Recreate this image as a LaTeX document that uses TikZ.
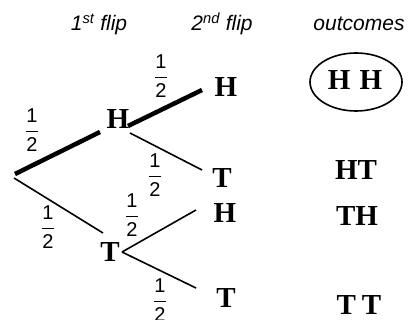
\documentclass[tikz,border=0pt]{standalone}
\usepackage{fontspec}
\setmainfont{Liberation Sans}
\newfontfamily\tserif{Liberation Serif}
\usetikzlibrary{calc,shapes.geometric}
\newcommand\myhalf{$\displaystyle\frac{\mbox{1}}{\mbox{2}}$}
\begin{document}
\begin{tikzpicture}[x=1pt,y=-1pt,
  lett/.style={font=\tserif\bfseries\fontsize{29}{29}\selectfont, inner sep=0pt},
  head/.style={font=\itshape\fontsize{21}{21}\selectfont, anchor=base, inner sep=0pt},
  fraclab/.style={font=\fontsize{20}{20}\selectfont, inner sep=0pt},
  thickbr/.style={line width=4.5pt},
  thinbr/.style={line width=1.6pt},
]
\useasboundingbox (0,0) rectangle (411,320);
% headers
\node[head] (h1) at (99,31) {1\textsuperscript{st} flip};
\node[head] (h2) at (222,31) {2\textsuperscript{nd} flip};
\node[head] (h3) at (359,31) {outcomes};
% tree
\coordinate (root) at (14,176);
\node[lett] (H1) at (118,119) {H};
\node[lett] (T1) at (110,252) {T};
\node[lett] (HH) at (226,87) {H};
\node[lett] (HT) at (222,178) {T};
\node[lett] (TH) at (225,213) {H};
\node[lett] (TT) at (226,298) {T};
\draw[thickbr] ($(root)+(1,-2)$) -- ($(H1)+(-18,13)$);
\draw[thickbr] ($(H1)+(10,7)$) -- ($(HH)+(-24,3)$);
\draw[thinbr] ($(H1)+(12,14)$) -- ($(HT)+(-20,-8)$);
\draw[thinbr] ($(root)+(0,2)$) -- ($(T1)+(-7,-19)$);
\draw[thinbr] ($(T1)+(12,0)$) -- ($(TH)+(-29,-3)$);
\draw[thinbr] ($(T1)+(12,0)$) -- ($(TT)+(-30,-10)$);
% probabilities
\node[fraclab] (p1) at (32,130) {\myhalf};
\node[fraclab] (p2) at (161,76) {\myhalf};
\node[fraclab] (p3) at (155,175) {\myhalf};
\node[fraclab] (p4) at (48,227) {\myhalf};
\node[fraclab] (p5) at (132,215) {\myhalf};
\node[fraclab] (p6) at (160,300) {\myhalf};
% outcomes
\node[ellipse, draw, line width=1.6pt, minimum width=92pt, minimum height=58pt, inner sep=0pt] (oval) at (356,82) {};
\node[lett] (oHH) at (355,80) {H\hspace{9pt}H};
\node[lett] (oHT) at (356,170) {HT};
\node[lett] (oTH) at (357,216) {TH};
\node[lett] (oTT) at (359,305) {T\hspace{6pt}T};
\end{tikzpicture}
\end{document}
